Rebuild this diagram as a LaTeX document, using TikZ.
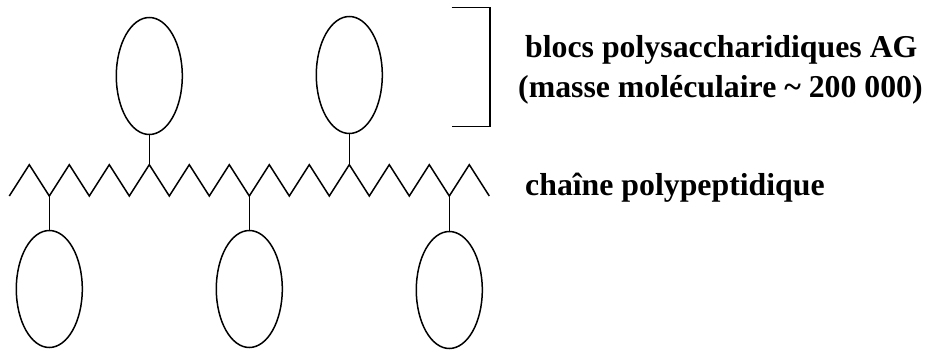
\documentclass[tikz,border=0pt]{standalone}
\usepackage{fontspec}
\setmainfont{Liberation Serif}
\usetikzlibrary{shapes.geometric}

\tikzset{
    bond/.style={black, line width=1.5pt},
    sugar/.style={bond, draw, ellipse, minimum width=66pt, minimum height=117pt, inner sep=0pt},
    caption/.style={font=\bfseries\fontsize{31.8}{38}\selectfont, inner sep=0pt, anchor=base west}
}

\newcommand{\drawchain}[1]{
    % Points of the zigzag, low and high in turn
    \foreach \i in {0,...,#1} {
        \pgfmathsetmacro{\cx}{9.3+20*\i}
        \pgfmathsetmacro{\cy}{ifthenelse(mod(\i,2)==0,153,184.3)}
        \coordinate (c\i) at (\cx,\cy);
    }

    % Draw the backbone through them
    \draw[bond] (c0) \foreach \i in {1,...,#1} { -- (c\i) };
}

\begin{document}
\begin{tikzpicture}[x=1pt, y=1pt]
    \useasboundingbox (0,0) rectangle (927,349);

    \drawchain{24}

    % The side blocks above and below
    \node[sugar] (up1) at (149.3,273) {};
    \node[sugar] (up2) at (349.3,274) {};
    \node[sugar] (low1) at (49.3,60) {};
    \node[sugar] (low2) at (249.3,60) {};
    \node[sugar] (low3) at (449.3,59) {};

    % Stems to the chain
    \draw[bond] (c7) -- (up1.south);
    \draw[bond] (c17) -- (up2.south);
    \draw[bond] (c2) -- (low1.north);
    \draw[bond] (c12) -- (low2.north);
    \draw[bond] (c22) -- (low3.north);

    % Bracket for the blocks
    \coordinate (br1) at (451.7,341.7);
    \coordinate (br2) at (490,341.7);
    \coordinate (br3) at (490,222.3);
    \coordinate (br4) at (451.7,222.3);
    \draw[bond] (br1) -- (br2) -- (br3) -- (br4);

    % Labels
    \node[caption] (blocs) at (525,291) {blocs polysaccharidiques AG};
    \node[caption] (masse) at (518,252) {(masse moléculaire \textasciitilde{} 200 000)};
    \node[caption] (chaine) at (525,154) {chaîne polypeptidique};
\end{tikzpicture}
\end{document}
